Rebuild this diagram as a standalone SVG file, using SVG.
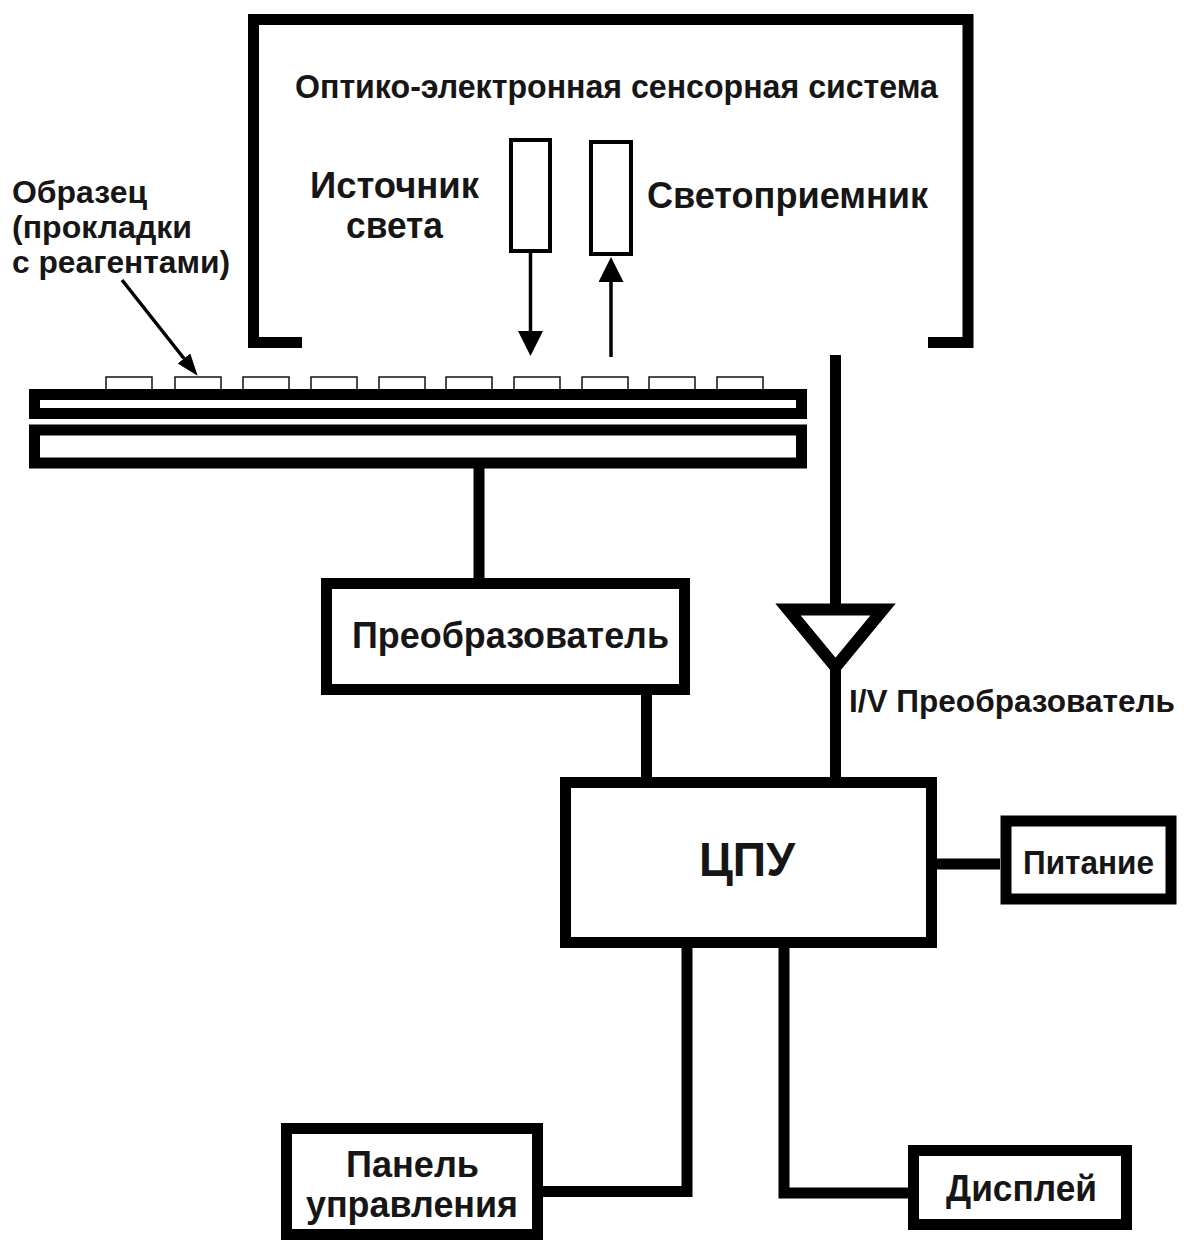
<svg xmlns="http://www.w3.org/2000/svg" width="1184" height="1245" viewBox="0 0 1184 1245">
<style>
.t{font-family:"Liberation Sans",Arial,Helvetica,sans-serif;font-weight:bold;fill:#161616}
.box{fill:#fff;stroke:#000;stroke-width:11}
.thin{fill:#fff;stroke:#000;stroke-width:4}
.pad{fill:#fff;stroke:#111;stroke-width:1.5}
.wire{fill:none;stroke:#000;stroke-width:11;stroke-linecap:butt;stroke-linejoin:miter}
.ray{fill:none;stroke:#000;stroke-width:3.5}
</style>
<defs>
<marker id="head" markerUnits="userSpaceOnUse" markerWidth="26" markerHeight="26" refX="0" refY="12.5" orient="auto">
<path d="M0,0 L25,12.5 L0,25 z" fill="#000"/>
</marker>
<marker id="headS" markerUnits="userSpaceOnUse" markerWidth="24" markerHeight="18" refX="0" refY="8" orient="auto">
<path d="M0,0 L22,8 L0,16 z" fill="#000"/>
</marker>
</defs>
<rect width="1184" height="1245" fill="#fff"/>

<g id="optical-system">
<path class="wire" d="M302 342.5 H253.5 V19.5 H968 V342.5 H928"/>
<text class="t" x="295" y="98" font-size="33" textLength="643" lengthAdjust="spacingAndGlyphs">Оптико-электронная сенсорная система</text>
</g>

<g id="light-source">
<rect class="thin" x="511" y="140" width="39" height="111"/>
<text class="t" x="310" y="198" font-size="36" textLength="169" lengthAdjust="spacingAndGlyphs">Источник</text>
<text class="t" x="346" y="238" font-size="36" textLength="97" lengthAdjust="spacingAndGlyphs">света</text>
</g>

<g id="photodetector">
<rect class="thin" x="591" y="142" width="40" height="112"/>
<text class="t" x="647" y="208" font-size="36" textLength="281" lengthAdjust="spacingAndGlyphs">Светоприемник</text>
</g>

<g id="sample-label">
<text class="t" x="12" y="203" font-size="32" textLength="135" lengthAdjust="spacingAndGlyphs">Образец</text>
<text class="t" x="12" y="238" font-size="32" textLength="180" lengthAdjust="spacingAndGlyphs">(прокладки</text>
<text class="t" x="12" y="273" font-size="32" textLength="218" lengthAdjust="spacingAndGlyphs">с реагентами)</text>
</g>

<g id="sample-plate">
<rect class="pad" x="106" y="377" width="46" height="13"/>
<rect class="pad" x="175" y="377" width="46" height="13"/>
<rect class="pad" x="243" y="377" width="46" height="13"/>
<rect class="pad" x="311" y="377" width="46" height="13"/>
<rect class="pad" x="379" y="377" width="46" height="13"/>
<rect class="pad" x="446" y="377" width="46" height="13"/>
<rect class="pad" x="514" y="377" width="46" height="13"/>
<rect class="pad" x="582" y="377" width="46" height="13"/>
<rect class="pad" x="649" y="377" width="46" height="13"/>
<rect class="pad" x="717" y="377" width="46" height="13"/>
<rect class="box" x="34.5" y="394.5" width="767" height="19"/>
<rect class="box" x="34.5" y="430" width="767" height="33"/>
</g>

<g id="converter">
<rect class="box" x="326.5" y="583.5" width="358" height="106"/>
<text class="t" x="352" y="648" font-size="36" textLength="317" lengthAdjust="spacingAndGlyphs">Преобразователь</text>
</g>

<g id="iv-converter">
<path d="M788 609.5 H883 L835.5 667 Z" fill="#fff" stroke="#000" stroke-width="12" stroke-linejoin="miter"/>
<text class="t" x="849" y="712" font-size="32" textLength="326" lengthAdjust="spacingAndGlyphs">I/V Преобразователь</text>
</g>

<g id="cpu">
<rect class="box" x="565.5" y="782.5" width="366" height="160"/>
<text class="t" x="699" y="876" font-size="48" textLength="96" lengthAdjust="spacingAndGlyphs">ЦПУ</text>
</g>

<g id="power">
<rect class="box" x="1006" y="821" width="165" height="78" stroke-width="12"/>
<text class="t" x="1023" y="874" font-size="33" textLength="131" lengthAdjust="spacingAndGlyphs">Питание</text>
</g>

<g id="control-panel">
<rect class="box" x="286.5" y="1128.5" width="251" height="106"/>
<text class="t" x="346" y="1177" font-size="36" textLength="133" lengthAdjust="spacingAndGlyphs">Панель</text>
<text class="t" x="306" y="1217" font-size="36" textLength="212" lengthAdjust="spacingAndGlyphs">управления</text>
</g>

<g id="display">
<rect class="box" x="913.5" y="1150.5" width="213" height="74"/>
<text class="t" x="946" y="1201" font-size="36" textLength="151" lengthAdjust="spacingAndGlyphs">Дисплей</text>
</g>

<g id="connectors">
<line class="ray" x1="530.5" y1="251" x2="530.5" y2="331" marker-end="url(#head)"/>
<line class="ray" x1="611" y1="357" x2="611" y2="282" marker-end="url(#head)"/>
<line class="ray" x1="122" y1="280" x2="184" y2="358.5" stroke-width="3" marker-end="url(#headS)"/>
<path class="wire" d="M479 468 V578"/>
<path class="wire" d="M835.5 355 V604"/>
<path class="wire" d="M835.5 670 V777"/>
<path class="wire" d="M646.5 695 V777"/>
<path class="wire" d="M937 864 H1000" stroke-width="12"/>
<path class="wire" d="M687 948 V1191.5 H543"/>
<path class="wire" d="M784 948 V1193 H908"/>
</g>
</svg>
